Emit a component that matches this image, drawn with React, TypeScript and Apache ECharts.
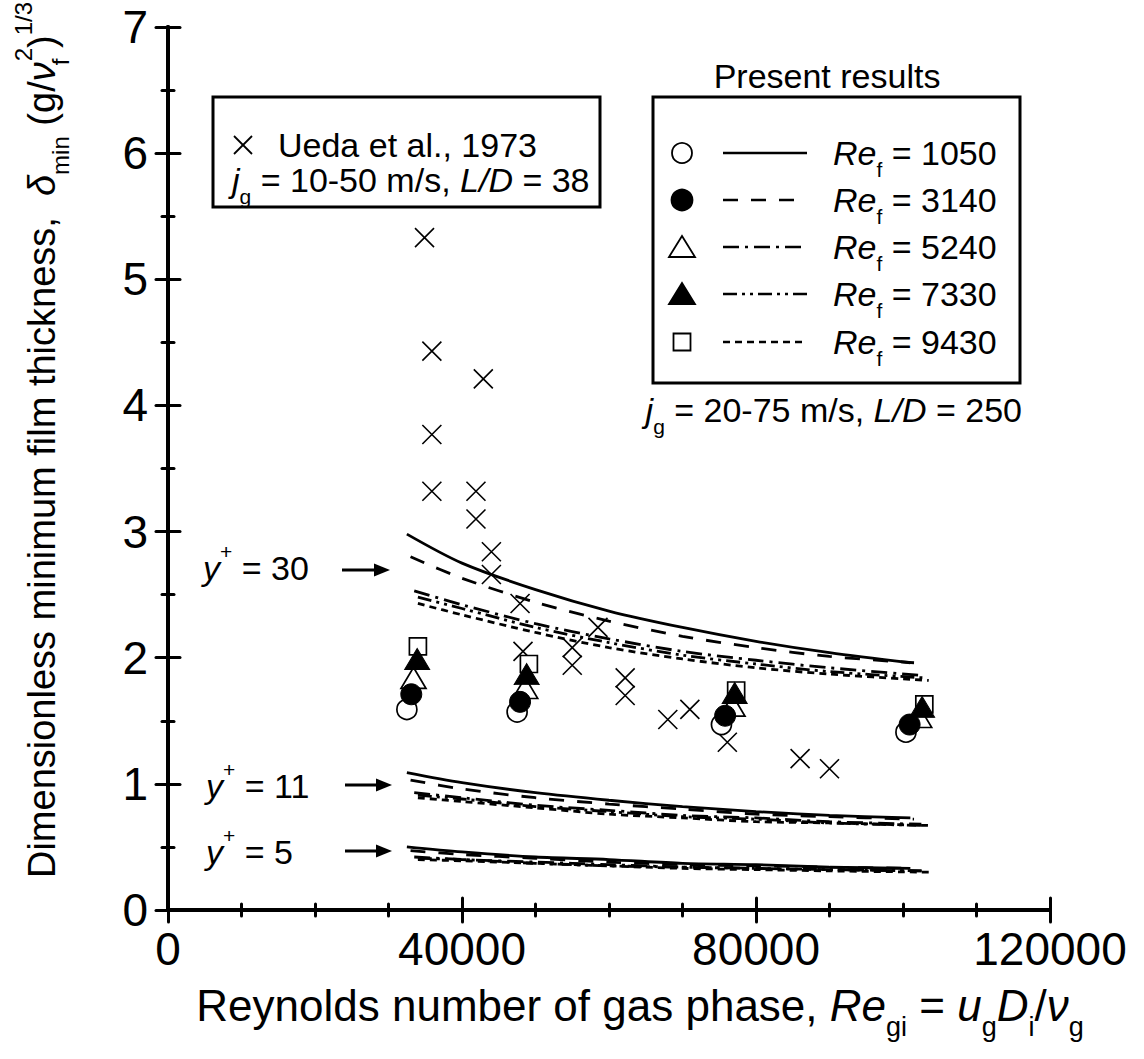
import React, { useEffect, useRef } from 'react';
import * as echarts from 'echarts';

const F = '"Liberation Sans", Arial, Helvetica, sans-serif';

// Axis ticks
const xTicks = [0, 40000, 80000, 120000];
const yTicks = [0, 1, 2, 3, 4, 5, 6, 7];

// Ueda et al., 1973 (crosses)
const uedaRe = [34900, 35900, 42900, 35900, 35900, 41900, 41900, 44000, 44000, 47900, 48300, 55000, 55000, 58500, 62200, 62200, 68000, 71000, 76100, 86000, 90000];
const uedaDelta = [5.33, 4.43, 4.21, 3.77, 3.32, 3.32, 3.10, 2.84, 2.66, 2.43, 2.05, 2.08, 1.94, 2.24, 1.84, 1.70, 1.51, 1.59, 1.33, 1.20, 1.12];

// Present results (markers)
const reFLabels = ['1050', '3140', '5240', '7330', '9430'];
const measRe1050 = [32500, 47500, 75300, 100400];
const measD1050 = [1.59, 1.57, 1.47, 1.41];
const measRe3140 = [33100, 47900, 75800, 100900];
const measD3140 = [1.71, 1.65, 1.54, 1.47];
const measRe5240 = [33400, 48600, 76800, 102200];
const measD5240 = [1.84, 1.76, 1.62, 1.53];
const measRe7330 = [33900, 48800, 77100, 102600];
const measD7330 = [1.99, 1.87, 1.72, 1.61];
const measRe9430 = [34000, 49100, 77300, 102900];
const measD9430 = [2.09, 1.95, 1.74, 1.63];

// Model lines (x positions)
const lineRe1050 = [32500, 40000, 50000, 60000, 70000, 80000, 90000, 101000];
const lineRe3140 = [33000, 40000, 50000, 60000, 70000, 80000, 90000, 101500];
const lineRe5240 = [33500, 40000, 50000, 60000, 70000, 80000, 90000, 102500];
const lineRe7330 = [34000, 40000, 50000, 60000, 70000, 80000, 90000, 103000];
const lineRe9430 = [34000, 40000, 50000, 60000, 70000, 80000, 90000, 103500];

// y+ = 30
const y30_1050 = [2.98, 2.75, 2.54, 2.37, 2.24, 2.13, 2.04, 1.96];
const y30_3140 = [2.80, 2.63, 2.44, 2.29, 2.17, 2.08, 2.01, 1.96];
const y30_5240 = [2.53, 2.42, 2.27, 2.15, 2.05, 1.98, 1.92, 1.86];
const y30_7330 = [2.48, 2.39, 2.24, 2.12, 2.02, 1.95, 1.89, 1.84];
const y30_9430 = [2.43, 2.34, 2.20, 2.08, 1.99, 1.92, 1.87, 1.82];
// y+ = 11
const y11_1050 = [1.09, 1.01, 0.93, 0.87, 0.82, 0.78, 0.75, 0.73];
const y11_3140 = [1.03, 0.96, 0.89, 0.84, 0.80, 0.76, 0.74, 0.72];
const y11_5240 = [0.93, 0.89, 0.83, 0.79, 0.75, 0.73, 0.70, 0.68];
const y11_7330 = [0.91, 0.88, 0.82, 0.78, 0.74, 0.72, 0.69, 0.67];
const y11_9430 = [0.89, 0.86, 0.81, 0.76, 0.73, 0.70, 0.69, 0.67];
// y+ = 5
const y5_1050 = [0.50, 0.46, 0.42, 0.40, 0.37, 0.36, 0.34, 0.33];
const y5_3140 = [0.47, 0.44, 0.41, 0.38, 0.36, 0.35, 0.34, 0.33];
const y5_5240 = [0.42, 0.40, 0.38, 0.36, 0.34, 0.33, 0.32, 0.31];
const y5_7330 = [0.41, 0.40, 0.37, 0.35, 0.34, 0.33, 0.32, 0.31];
const y5_9430 = [0.40, 0.39, 0.37, 0.35, 0.33, 0.32, 0.31, 0.30];

const zip = (xs: number[], ys: number[]) => xs.map((x, i) => [x, ys[i]]);

const DASH: any[] = ['solid', [15, 13], [16, 6, 3, 6], [14, 5, 3, 5, 3, 5], [7, 5]];
const lineXs = [lineRe1050, lineRe3140, lineRe5240, lineRe7330, lineRe9430];
const groups = [
  [y30_1050, y30_3140, y30_5240, y30_7330, y30_9430],
  [y11_1050, y11_3140, y11_5240, y11_7330, y11_9430],
  [y5_1050, y5_3140, y5_5240, y5_7330, y5_9430],
];

function rich(fs: number) {
  const s = Math.round(fs * 0.62);
  const lh = Math.round(fs * 1.6);
  return {
    n: { fontSize: fs, fontFamily: F, lineHeight: lh, verticalAlign: 'middle' },
    i: { fontSize: fs, fontFamily: F, fontStyle: 'italic', lineHeight: lh, verticalAlign: 'middle' },
    sub: { fontSize: s, fontFamily: F, lineHeight: s, verticalAlign: 'bottom' },
    subz: { fontSize: s, fontFamily: F, lineHeight: s, verticalAlign: 'bottom', width: 1 },
    sup: { fontSize: s, fontFamily: F, lineHeight: s, verticalAlign: 'top' },
  };
}

function rtext(x: number, y: number, text: string, fs: number, align = 'left', extra: any = {}) {
  return {
    type: 'text', x, y, ...extra,
    style: { text, rich: rich(fs), fill: '#000', align, verticalAlign: 'middle', fontFamily: F, fontSize: fs },
  };
}

function arrow(x1: number, x2: number, y: number) {
  return [
    { type: 'line', shape: { x1, y1: y, x2: x2 - 10, y2: y }, style: { stroke: '#000', lineWidth: 3.2 } },
    { type: 'polygon', shape: { points: [[x2, y], [x2 - 16, y - 6.5], [x2 - 16, y + 6.5]] }, style: { fill: '#000' } },
  ];
}

function legendMarker(k: number, cx: number, cy: number) {
  const st = { stroke: '#000', lineWidth: 1.8 };
  if (k === 0) return { type: 'circle', shape: { cx, cy, r: 10 }, style: { ...st, fill: '#fff' } };
  if (k === 1) return { type: 'circle', shape: { cx, cy, r: 10.5 }, style: { ...st, fill: '#000' } };
  if (k === 2) return { type: 'polygon', shape: { points: [[cx, cy - 11], [cx + 13, cy + 10], [cx - 13, cy + 10]] }, style: { ...st, fill: '#fff' } };
  if (k === 3) return { type: 'polygon', shape: { points: [[cx, cy - 11], [cx + 13, cy + 10], [cx - 13, cy + 10]] }, style: { ...st, fill: '#000' } };
  return { type: 'rect', shape: { x: cx - 8.5, y: cy - 8.5, width: 17, height: 17 }, style: { ...st, fill: '#fff' } };
}

export default function App() {
  const ref = useRef<HTMLDivElement>(null);
  useEffect(() => {
    if (!ref.current) return;
    const chart = echarts.init(ref.current, undefined, { renderer: 'svg' });

    const axisCommon = {
      type: 'value',
      axisLine: { show: true, lineStyle: { color: '#000', width: 4 } },
      axisTick: { show: true, inside: true, length: 12, lineStyle: { color: '#000', width: 3, cap: 'round' } },
      minorTick: { show: true, length: 6, lineStyle: { color: '#000', width: 3, cap: 'round' } },
      splitLine: { show: false },
      minorSplitLine: { show: false },
    };
    const xBase = { ...axisCommon, min: xTicks[0], max: xTicks[xTicks.length - 1], interval: xTicks[1] - xTicks[0], minorTick: { ...axisCommon.minorTick, splitNumber: 4 } };
    const yBase = { ...axisCommon, min: yTicks[0], max: yTicks[yTicks.length - 1], interval: yTicks[1] - yTicks[0], minorTick: { ...axisCommon.minorTick, splitNumber: 2 } };

    const series: any[] = [];
    groups.forEach((g) => {
      g.forEach((ys, k) => {
        series.push({
          type: 'line', data: zip(lineXs[k], ys), symbol: 'none', smooth: 0.3, silent: true,
          lineStyle: { color: '#000', width: 2.8, type: DASH[k] }, z: 2,
        });
      });
    });
    series.push({
      type: 'scatter', name: 'Ueda et al., 1973', data: zip(uedaRe, uedaDelta),
      symbol: 'path://M0 0L20 20M20 0L0 20', symbolSize: 19,
      itemStyle: { color: 'none', borderColor: '#000', borderWidth: 1.6, opacity: 1 }, z: 3,
    });
    const openSt = { color: '#fff', borderColor: '#000', borderWidth: 1.7, opacity: 1 };
    const fillSt = { color: '#000', borderColor: '#000', borderWidth: 1, opacity: 1 };
    series.push({ type: 'scatter', name: 'Re_f = ' + reFLabels[0], data: zip(measRe1050, measD1050), symbol: 'circle', symbolSize: 20, itemStyle: openSt, z: 4 });
    series.push({ type: 'scatter', name: 'Re_f = ' + reFLabels[2], data: zip(measRe5240, measD5240), symbol: 'triangle', symbolSize: [25, 21], itemStyle: openSt, z: 4 });
    series.push({ type: 'scatter', name: 'Re_f = ' + reFLabels[4], data: zip(measRe9430, measD9430), symbol: 'rect', symbolSize: 17, itemStyle: openSt, z: 4 });
    series.push({ type: 'scatter', name: 'Re_f = ' + reFLabels[1], data: zip(measRe3140, measD3140), symbol: 'circle', symbolSize: 21, itemStyle: fillSt, z: 4 });
    series.push({ type: 'scatter', name: 'Re_f = ' + reFLabels[3], data: zip(measRe7330, measD7330), symbol: 'triangle', symbolSize: [25, 21], itemStyle: fillSt, z: 4 });

    const graphic: any[] = [];
    // axis titles
    graphic.push(rtext(640, 1005,
      '{n|Reynolds number of gas phase, }{i|Re}{sub|gi}{n| = }{i|u}{sub|g}{i|D}{sub|i}{n|/}{i|ν}{sub|g}', 44, 'center'));
    graphic.push(rtext(42, 440,
      '{n|Dimensionless minimum film thickness,  }{i|δ}{sub|min}{n| (g/}{i|ν}{subz|f}{sup|2}{n|)}{sup|1/3}', 38, 'center',
      { rotation: Math.PI / 2 }));
    // y+ annotations
    graphic.push(rtext(203, 568, '{i|y}{sup|+}{n| = 30}', 34));
    graphic.push(...arrow(342, 390, 570));
    graphic.push(rtext(206, 786, '{i|y}{sup|+}{n| = 11}', 34));
    graphic.push(...arrow(345, 392, 785));
    graphic.push(rtext(206, 852, '{i|y}{sup|+}{n| = 5}', 34));
    graphic.push(...arrow(345, 392, 851));
    graphic.push(rtext(1022, 410, '{i|j}{sub|g}{n| = 20-75 m/s, }{i|L/D}{n| = 250}', 34, 'right'));
    // Ueda box
    graphic.push({ type: 'rect', shape: { x: 213, y: 97, width: 387, height: 110 }, style: { fill: 'none', stroke: '#000', lineWidth: 3 } });
    graphic.push({ type: 'line', shape: { x1: 234, y1: 136, x2: 252, y2: 154 }, style: { stroke: '#000', lineWidth: 1.8 } });
    graphic.push({ type: 'line', shape: { x1: 252, y1: 136, x2: 234, y2: 154 }, style: { stroke: '#000', lineWidth: 1.8 } });
    graphic.push(rtext(278, 145, '{n|Ueda et al., 1973}', 34));
    graphic.push(rtext(232, 180, '{i|j}{sub|g}{n| = 10-50 m/s, }{i|L/D}{n| = 38}', 34));
    // Present results legend
    graphic.push(rtext(827, 76, '{n|Present results}', 34, 'center'));
    graphic.push({ type: 'rect', shape: { x: 653, y: 97, width: 367, height: 286 }, style: { fill: 'none', stroke: '#000', lineWidth: 3 } });
    const rowY = [153, 200, 247, 294, 342];
    reFLabels.forEach((lab, k) => {
      const y = rowY[k];
      graphic.push(legendMarker(k, 682, y));
      graphic.push({
        type: 'line', shape: { x1: 723, y1: y, x2: 807, y2: y },
        style: { stroke: '#000', lineWidth: 2.6, lineDash: k === 0 ? null : DASH[k] },
      });
      graphic.push(rtext(833, y, '{i|Re}{sub|f}{n| = ' + lab + '}', 34));
    });

    chart.setOption({
      animation: false,
      backgroundColor: '#fff',
      grid: { left: 168, right: 94, top: 27, bottom: 149, containLabel: false },
      xAxis: [
        { ...xBase, position: 'bottom', axisLabel: { show: true, color: '#000', fontSize: 46, fontFamily: F, margin: 16, showMinLabel: true, showMaxLabel: true, formatter: (v: number) => String(v) } },
        { ...xBase, position: 'top', axisLabel: { show: false } },
      ],
      yAxis: [
        { ...yBase, position: 'left', axisLabel: { show: true, color: '#000', fontSize: 46, fontFamily: F, margin: 20, formatter: (v: number) => String(v) } },
        { ...yBase, position: 'right', axisLabel: { show: false } },
      ],
      series,
      graphic,
    });
    return () => chart.dispose();
  }, []);
  return <div ref={ref} style={{ position: 'fixed', left: 0, top: 0, width: 1144, height: 1059 }} />;
}
